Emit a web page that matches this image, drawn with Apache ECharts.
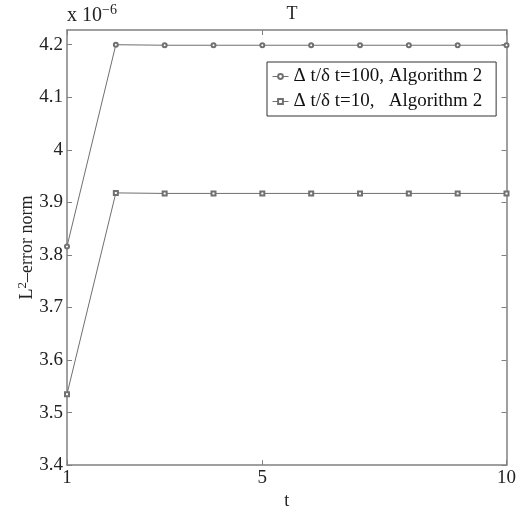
<!DOCTYPE html>
<html>
<head>
<meta charset="utf-8">
<script src="https://cdn.jsdelivr.net/npm/echarts@6/dist/echarts.min.js"></script>
<style>
  html, body { margin: 0; padding: 0; background: #fff; }
  #chart { width: 519px; height: 515px; }
</style>
</head>
<body>
<div id="chart"></div>
<script>
// time steps
const tValues = [1, 2, 3, 4, 5, 6, 7, 8, 9, 10]
// L2 error (x 1e-6)
const err100 = [3.816, 4.200, 4.199, 4.199, 4.199, 4.199, 4.199, 4.199, 4.199, 4.199]
const err10 = [3.535, 3.918, 3.917, 3.917, 3.917, 3.917, 3.917, 3.917, 3.917, 3.917]
const xTicks = [1, 5, 10]
const yTicks = [3.4, 3.5, 3.6, 3.7, 3.8, 3.9, 4.0, 4.1, 4.2]

const font = 'Liberation Serif'
const axisColor = '#808080'
const lineColor = '#707070'

const chart = echarts.init(document.getElementById('chart'))

function pairs(ys) {
  return tValues.map((t, i) => [t, ys[i]])
}

const frameAxis = {
  axisLine: { show: true, lineStyle: { color: axisColor, width: 1.5 }},
  splitLine: { show: false }
}

chart.setOption({
  animation: false,
  backgroundColor: '#fff',
  title: {
    text: 'T',
    left: 287,
    textAlign: 'center',
    top: 0,
    textStyle: { fontFamily: font, fontSize: 18, fontWeight: 'normal', color: '#222' }
  },
  graphic: [{
    type: 'text',
    left: 67,
    top: 3,
    style: {
      text: 'x 10{sup|−6}',
      fontFamily: font,
      fontSize: 20,
      fill: '#222',
      rich: {
        sup: { fontFamily: font, fontSize: 14, verticalAlign: 'top', padding: [0, 0, 12, 0] }
      }
    }
  }],
  legend: {
    orient: 'vertical',
    left: 267,
    top: 62,
    padding: [5, 14, 5, 5],
    itemGap: 6,
    itemWidth: 16,
    itemHeight: 6,
    borderColor: '#333',
    borderWidth: 1,
    itemStyle: { borderWidth: 0.8 },
    lineStyle: { width: 1 },
    textStyle: { fontFamily: font, fontSize: 19, color: '#111' },
    data: ['Δ t/δ t=100, Algorithm 2', 'Δ t/δ t=10,   Algorithm 2']
  },
  grid: { left: 67, right: 11, top: 30, bottom: 34 },
  xAxis: [{
    type: 'value',
    min: 1,
    max: 10,
    name: 't',
    nameLocation: 'middle',
    nameGap: 18,
    nameTextStyle: { fontFamily: font, fontSize: 18, color: '#222' },
    ...frameAxis,
    axisTick: { inside: true, length: 5, customValues: xTicks, lineStyle: { color: axisColor }},
    axisLabel: { customValues: xTicks, margin: 3, fontFamily: font, fontSize: 19, color: '#222' }
  }, {
    type: 'value',
    position: 'top',
    min: 1,
    max: 10,
    ...frameAxis,
    axisTick: { inside: true, length: 5, customValues: xTicks, lineStyle: { color: axisColor }},
    axisLabel: { show: false }
  }],
  yAxis: [{
    type: 'value',
    min: 3.4,
    max: 4.228,
    name: '{n|L}{sup|2}{n|–error norm}',
    nameLocation: 'middle',
    nameGap: 28,
    nameMoveOverlap: false,
    nameTextStyle: {
      rich: {
        n: { fontFamily: font, fontSize: 18, color: '#222' },
        sup: { fontFamily: font, fontSize: 13, color: '#222', padding: [0, 0, 10, 0] }
      }
    },
    ...frameAxis,
    axisTick: { inside: true, length: 5, customValues: yTicks, lineStyle: { color: axisColor }},
    axisLabel: {
      customValues: yTicks,
      margin: 4,
      fontFamily: font,
      fontSize: 19,
      color: '#222',
      formatter: v => String(parseFloat(v.toFixed(1)))
    }
  }, {
    type: 'value',
    position: 'right',
    min: 3.4,
    max: 4.228,
    ...frameAxis,
    axisTick: { inside: true, length: 5, customValues: yTicks, lineStyle: { color: axisColor }},
    axisLabel: { show: false }
  }],
  series: [{
    name: 'Δ t/δ t=100, Algorithm 2',
    type: 'line',
    data: pairs(err100),
    symbol: 'emptyCircle',
    symbolSize: 4,
    color: lineColor,
    lineStyle: { color: lineColor, width: 1 },
    itemStyle: { color: lineColor, borderWidth: 0.8 }
  }, {
    name: 'Δ t/δ t=10,   Algorithm 2',
    type: 'line',
    data: pairs(err10),
    symbol: 'emptyRect',
    symbolSize: 4,
    color: lineColor,
    lineStyle: { color: lineColor, width: 1 },
    itemStyle: { color: lineColor, borderWidth: 0.8 }
  }]
})
</script>
</body>
</html>
